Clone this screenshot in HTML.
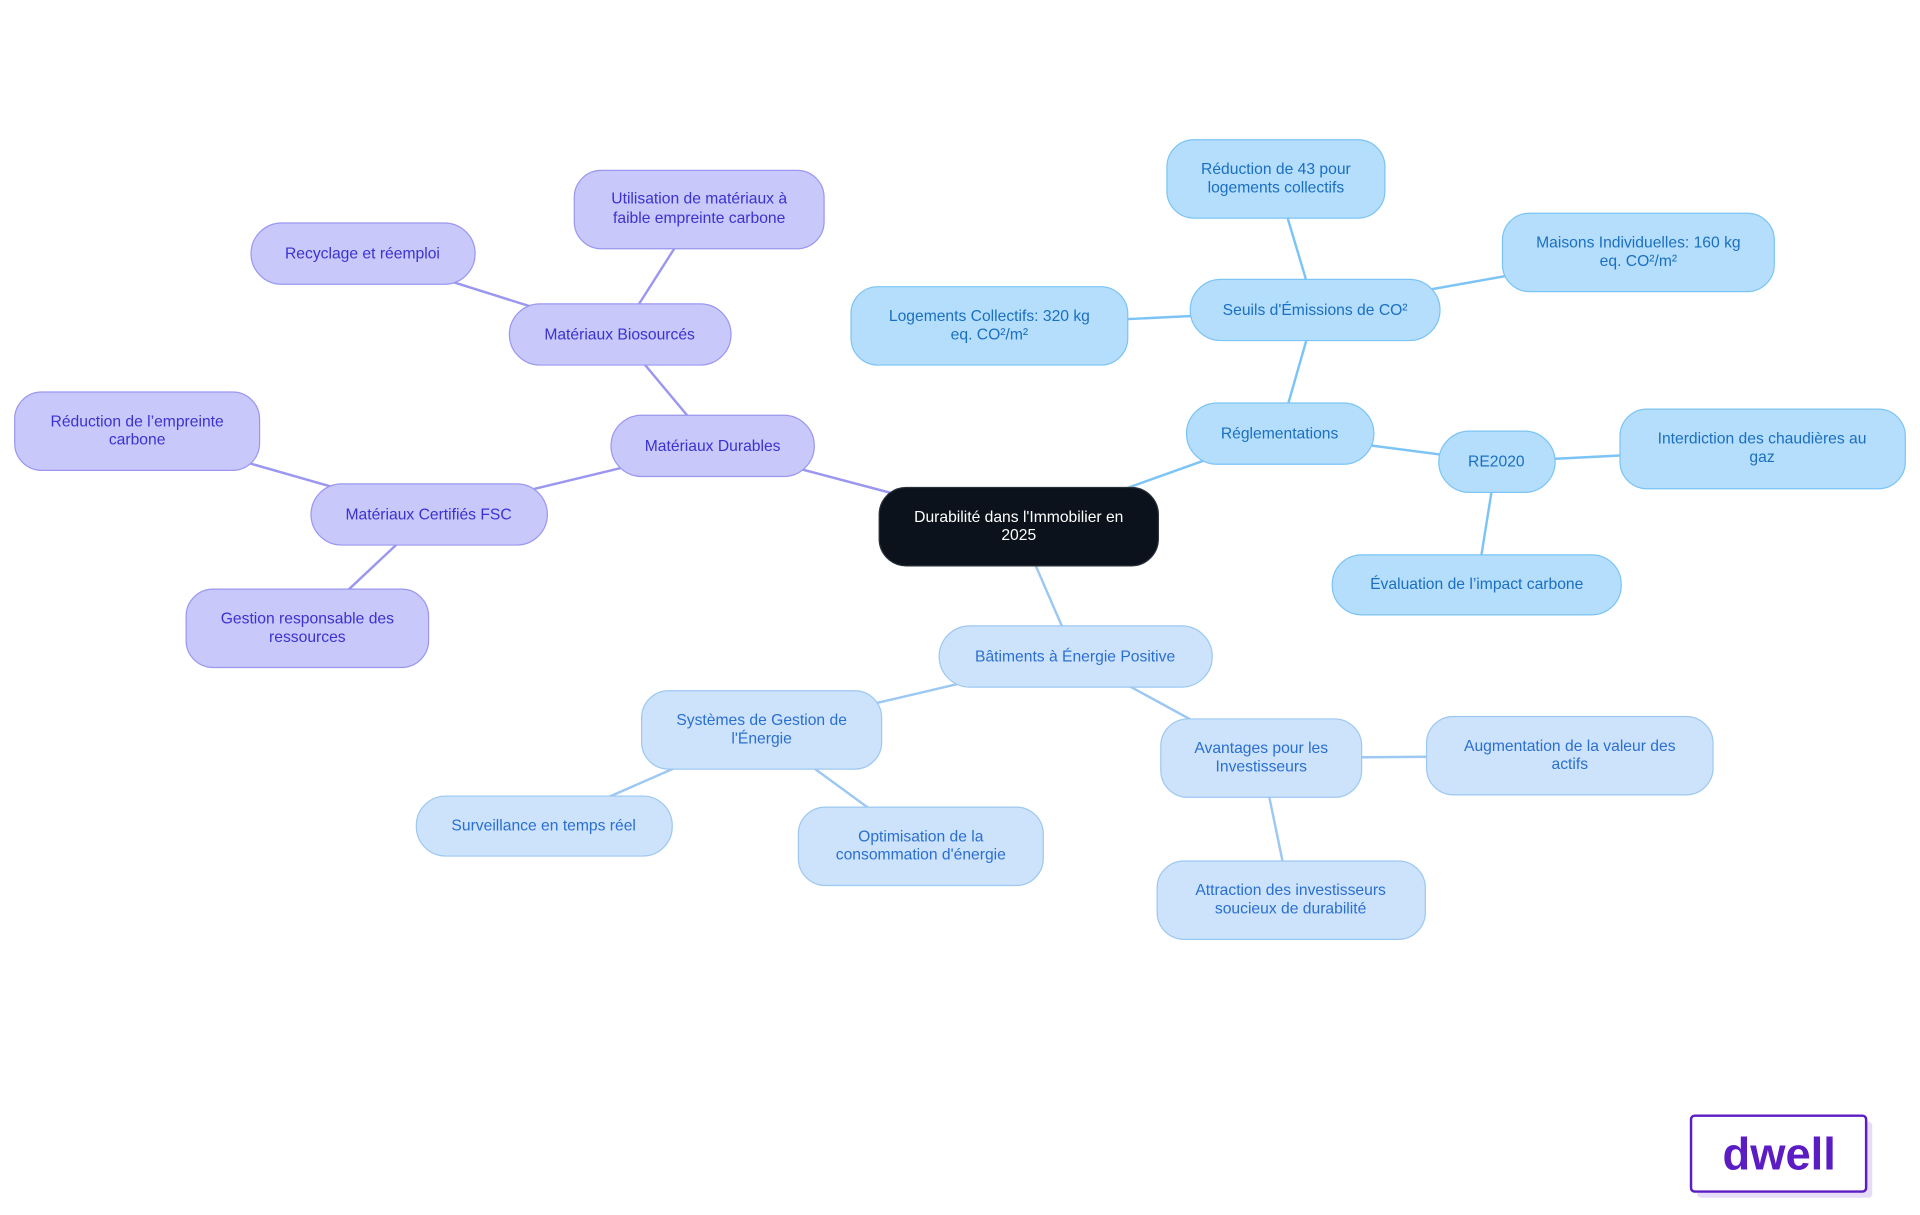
<!DOCTYPE html>
<html><head><meta charset="utf-8"><style>
html,body{margin:0;padding:0;background:#fff;}
svg{display:block;}
text{font-family:"Liberation Sans",sans-serif;font-size:12.8px;text-anchor:middle;}
</style></head><body>
<svg width="1920" height="1215" viewBox="0 0 1568 992" xmlns="http://www.w3.org/2000/svg">
<g stroke-width="2" fill="none">
<g stroke="#9b97f0">
<line x1="832" y1="430" x2="582" y2="364"/>
<line x1="582" y1="364" x2="506" y2="273"/>
<line x1="506" y1="273" x2="571" y2="171"/>
<line x1="506" y1="273" x2="296" y2="207"/>
<line x1="582" y1="364" x2="350" y2="420"/>
<line x1="350" y1="420" x2="112" y2="352"/>
<line x1="350" y1="420" x2="251" y2="513"/>
</g>
<g stroke="#7cc4f5">
<line x1="832" y1="430" x2="1045" y2="354"/>
<line x1="1045" y1="354" x2="1074" y2="253"/>
<line x1="1074" y1="253" x2="1042" y2="146"/>
<line x1="1074" y1="253" x2="1338" y2="206"/>
<line x1="1074" y1="253" x2="808" y2="266"/>
<line x1="1045" y1="354" x2="1222" y2="377"/>
<line x1="1222" y1="377" x2="1439" y2="366"/>
<line x1="1222" y1="377" x2="1206" y2="477"/>
</g>
<g stroke="#9dc8f2">
<line x1="832" y1="430" x2="878" y2="536"/>
<line x1="878" y1="536" x2="622" y2="596"/>
<line x1="622" y1="596" x2="444" y2="674"/>
<line x1="622" y1="596" x2="752" y2="691"/>
<line x1="878" y1="536" x2="1030" y2="619"/>
<line x1="1030" y1="619" x2="1282" y2="617"/>
<line x1="1030" y1="619" x2="1054" y2="735"/>
</g>
</g>

<rect x="718" y="398" width="228" height="64" rx="22" fill="#0b121c" stroke="#2a3038"/>
<text x="832" y="426" fill="#fff">Durabilité dans l'Immobilier en</text>
<text x="832" y="441" fill="#fff">2025</text>

<g fill="#c8c8fb" stroke="#9b97f0" stroke-width="1">
<rect x="499" y="339" width="166" height="50" rx="25"/>
<rect x="416" y="248" width="181" height="50" rx="25"/>
<rect x="469" y="139" width="204" height="64" rx="22"/>
<rect x="205" y="182" width="183" height="50" rx="25"/>
<rect x="254" y="395" width="193" height="50" rx="25"/>
<rect x="12" y="320" width="200" height="64" rx="22"/>
<rect x="152" y="481" width="198" height="64" rx="22"/>
</g>
<g fill="#3b32cf">
<text x="582" y="368">Matériaux Durables</text>
<text x="506" y="277">Matériaux Biosourcés</text>
<text x="571" y="166">Utilisation de matériaux à</text>
<text x="571" y="182">faible empreinte carbone</text>
<text x="296" y="211">Recyclage et réemploi</text>
<text x="350" y="424">Matériaux Certifiés FSC</text>
<text x="112" y="348">Réduction de l’empreinte</text>
<text x="112" y="363">carbone</text>
<text x="251" y="509">Gestion responsable des</text>
<text x="251" y="524">ressources</text>
</g>

<g fill="#b4defc" stroke="#7cc4f5" stroke-width="1">
<rect x="969" y="329" width="153" height="50" rx="25"/>
<rect x="972" y="228" width="204" height="50" rx="25"/>
<rect x="953" y="114" width="178" height="64" rx="22"/>
<rect x="1227" y="174" width="222" height="64" rx="22"/>
<rect x="695" y="234" width="226" height="64" rx="22"/>
<rect x="1175" y="352" width="95" height="50" rx="25"/>
<rect x="1323" y="334" width="233" height="65" rx="22"/>
<rect x="1088" y="453" width="236" height="49" rx="24"/>
</g>
<g fill="#1b6fc0">
<text x="1045" y="358">Réglementations</text>
<text x="1074" y="257">Seuils d'Émissions de CO²</text>
<text x="1042" y="142">Réduction de 43 pour</text>
<text x="1042" y="157">logements collectifs</text>
<text x="1338" y="202">Maisons Individuelles: 160 kg</text>
<text x="1338" y="217">eq. CO²/m²</text>
<text x="808" y="262">Logements Collectifs: 320 kg</text>
<text x="808" y="277">eq. CO²/m²</text>
<text x="1222" y="381">RE2020</text>
<text x="1439" y="362">Interdiction des chaudières au</text>
<text x="1439" y="377">gaz</text>
<text x="1206" y="481">Évaluation de l’impact carbone</text>
</g>

<g fill="#cde3fb" stroke="#9dc8f2" stroke-width="1">
<rect x="767" y="511" width="223" height="50" rx="25"/>
<rect x="524" y="564" width="196" height="64" rx="22"/>
<rect x="340" y="650" width="209" height="49" rx="24"/>
<rect x="652" y="659" width="200" height="64" rx="22"/>
<rect x="948" y="587" width="164" height="64" rx="22"/>
<rect x="1165" y="585" width="234" height="64" rx="22"/>
<rect x="945" y="703" width="219" height="64" rx="22"/>
</g>
<g fill="#2a6fd0">
<text x="878" y="540">Bâtiments à Énergie Positive</text>
<text x="622" y="592">Systèmes de Gestion de</text>
<text x="622" y="607">l'Énergie</text>
<text x="444" y="678">Surveillance en temps réel</text>
<text x="752" y="687">Optimisation de la</text>
<text x="752" y="702">consommation d'énergie</text>
<text x="1030" y="615">Avantages pour les</text>
<text x="1030" y="630">Investisseurs</text>
<text x="1282" y="613">Augmentation de la valeur des</text>
<text x="1282" y="628">actifs</text>
<text x="1054" y="731">Attraction des investisseurs</text>
<text x="1054" y="746">soucieux de durabilité</text>
</g>

<rect x="1386" y="916" width="143" height="62" rx="3" fill="#e6dcf7"/>
<rect x="1381" y="911" width="143" height="62" rx="3" fill="#fff" stroke="#5b1cc4" stroke-width="2"/>
<text x="1453" y="955" fill="#5b1cc4" style="font-size:37px;font-weight:bold;">dwell</text>
</svg>
</body></html>
